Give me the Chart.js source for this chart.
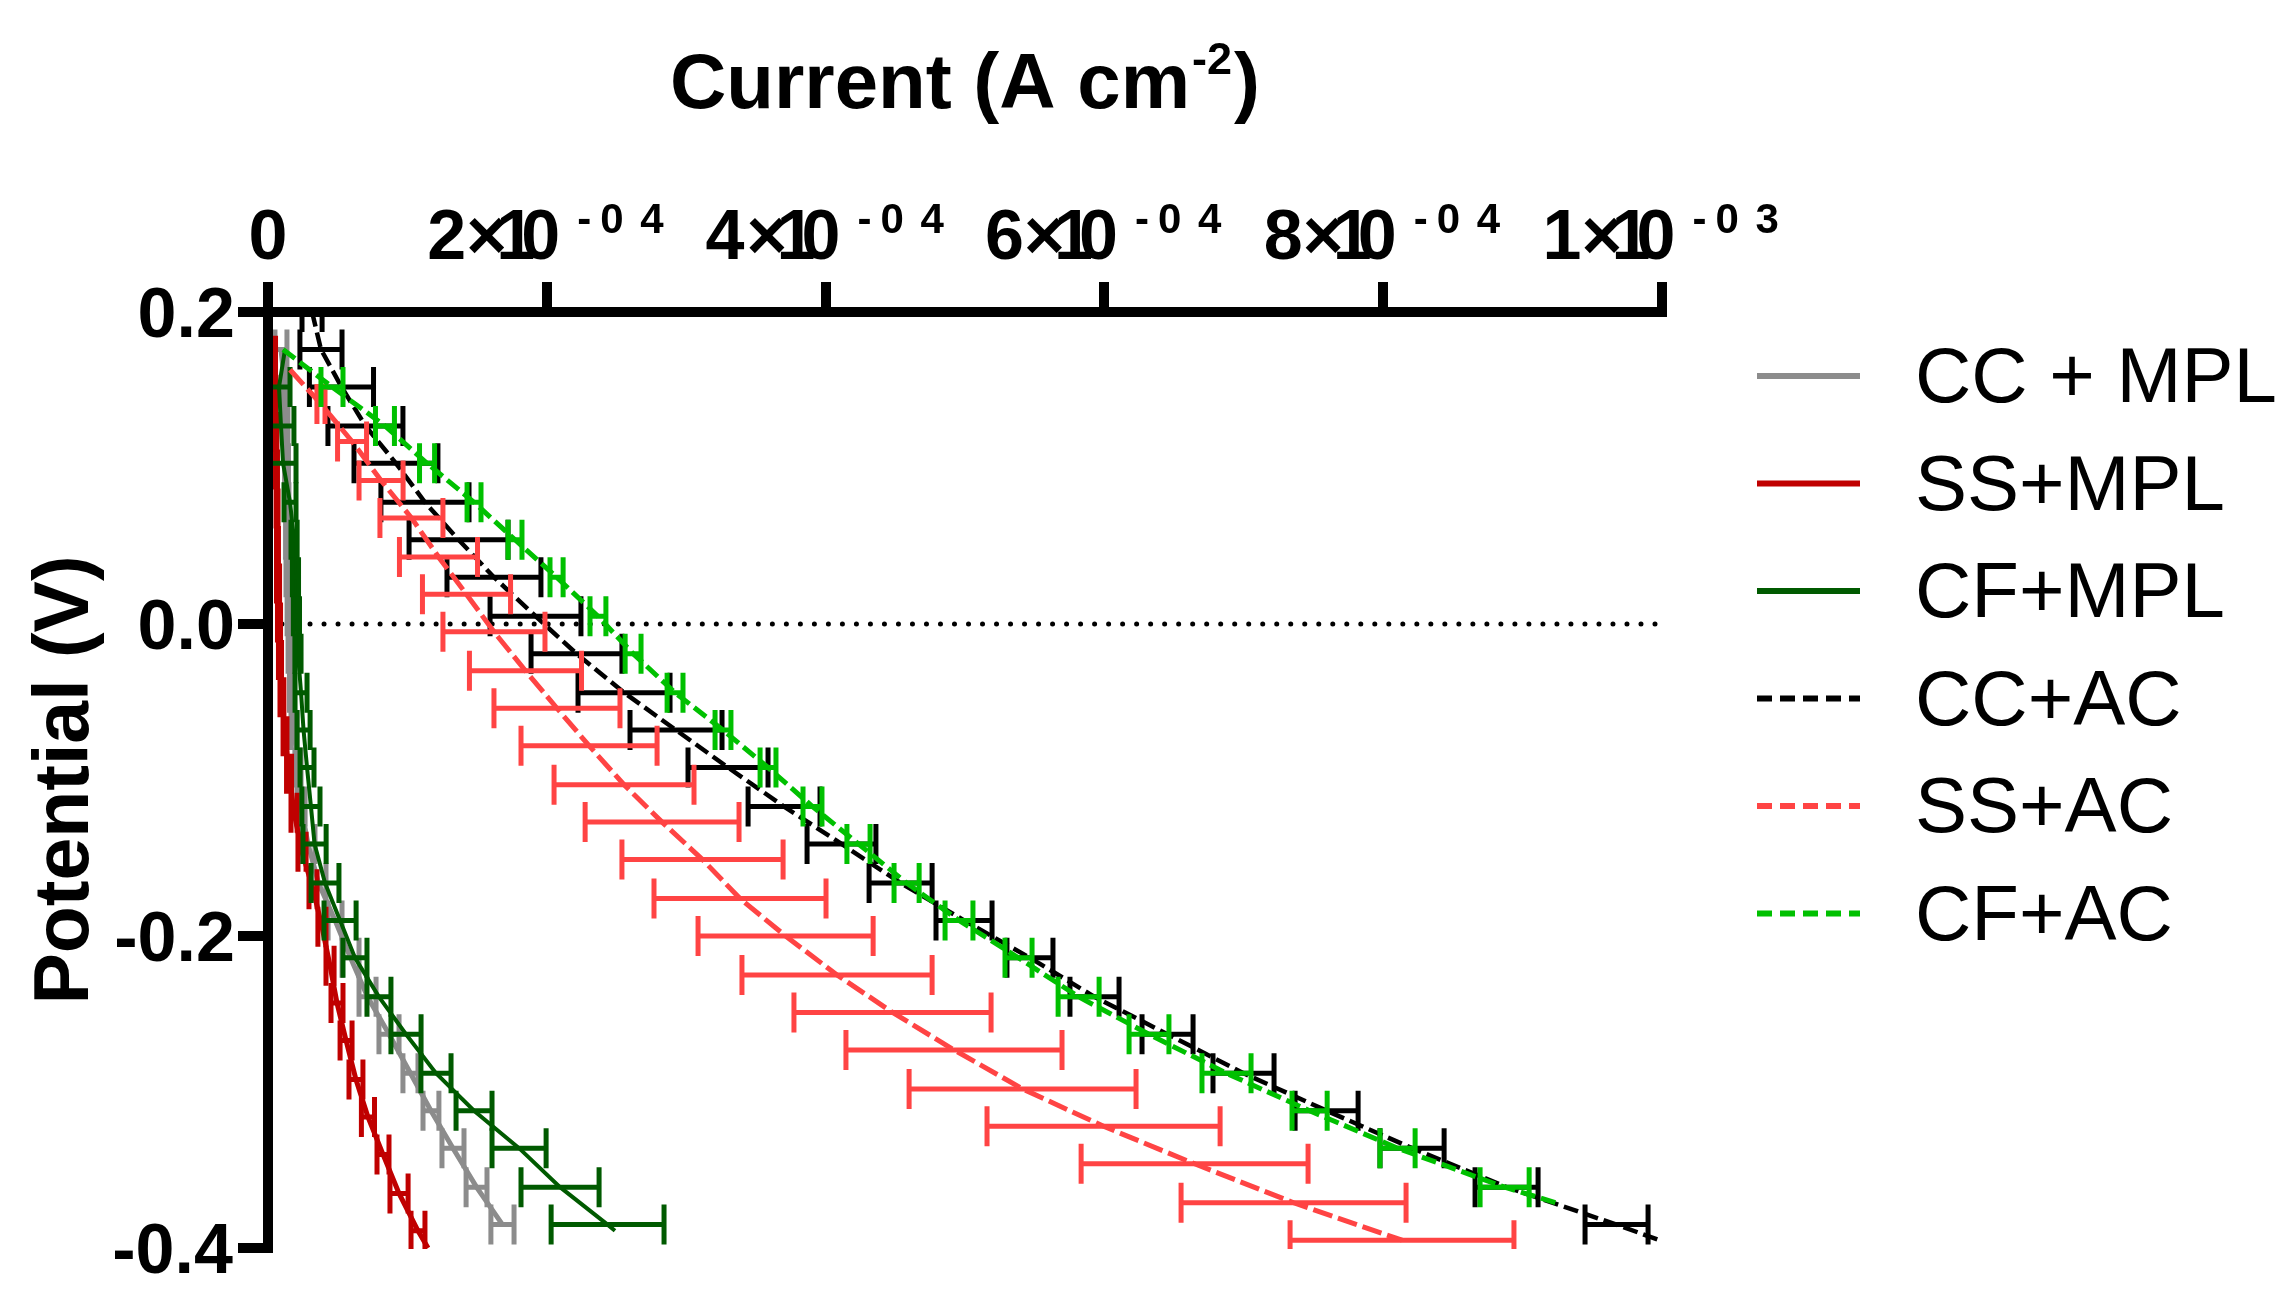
<!DOCTYPE html>
<html>
<head>
<meta charset="utf-8">
<script src="https://cdn.jsdelivr.net/npm/chart.js@4.4.1/dist/chart.umd.min.js"></script>
<style>
html,body{margin:0;padding:0;background:#fff;overflow:hidden}
canvas{display:block}
</style>
</head>
<body>
<canvas id="c" width="2293" height="1297"></canvas>
<script>
// ---------------- data (potential in V, current in A cm-2) ----------------
const seriesNames = ['CC + MPL', 'SS+MPL', 'CF+MPL', 'CC+AC', 'SS+AC', 'CF+AC'];

const ccMplE = [0.176, 0.152, 0.127, 0.103, 0.078, 0.054, 0.030, 0.005, -0.019, -0.044, -0.068, -0.092, -0.117, -0.141, -0.166, -0.190, -0.214, -0.239, -0.263, -0.288, -0.312, -0.336, -0.361, -0.385];
const ccMplI = [9.3e-6, 1.22e-5, 1.29e-5, 1.33e-5, 1.36e-5, 1.40e-5, 1.43e-5, 1.51e-5, 1.58e-5, 1.72e-5, 1.87e-5, 2.15e-5, 2.37e-5, 2.87e-5, 3.62e-5, 4.81e-5, 5.92e-5, 7.14e-5, 8.68e-5, 1.022e-4, 1.169e-4, 1.327e-4, 1.496e-4, 1.682e-4];
const ccMplErr = [4.3e-6, 1.4e-6, 1.4e-6, 1.4e-6, 1.4e-6, 1.4e-6, 1.4e-6, 1.4e-6, 1.4e-6, 1.8e-6, 2.2e-6, 2.2e-6, 2.9e-6, 5.0e-6, 5.4e-6, 5.0e-6, 6.1e-6, 6.1e-6, 7.2e-6, 5.4e-6, 5.7e-6, 7.9e-6, 7.5e-6, 8.3e-6];

const ssMplE = [0.184, 0.172, 0.147, 0.123, 0.099, 0.074, 0.050, 0.026, 0.001, -0.023, -0.047, -0.072, -0.096, -0.121, -0.146, -0.170, -0.194, -0.219, -0.243, -0.267, -0.292, -0.316, -0.340, -0.365, -0.389, -0.400];
const ssMplI = [4.3e-6, 4.7e-6, 5.0e-6, 5.7e-6, 6.1e-6, 6.5e-6, 6.8e-6, 7.2e-6, 7.9e-6, 8.6e-6, 1.00e-5, 1.22e-5, 1.51e-5, 1.87e-5, 2.44e-5, 3.23e-5, 3.87e-5, 4.45e-5, 4.95e-5, 5.60e-5, 6.31e-5, 7.17e-5, 8.25e-5, 9.40e-5, 1.076e-4, 1.148e-4];
const ssMplErr = [0, 7e-7, 7e-7, 7e-7, 7e-7, 7e-7, 7e-7, 1.1e-6, 1.1e-6, 1.1e-6, 1.4e-6, 1.4e-6, 1.8e-6, 2.2e-6, 2.9e-6, 2.9e-6, 2.9e-6, 2.9e-6, 4.3e-6, 4.3e-6, 5.0e-6, 4.7e-6, 4.3e-6, 6.5e-6, 5.0e-6, 0];

const cfMplE = [0.176, 0.152, 0.127, 0.103, 0.078, 0.054, 0.030, 0.005, -0.019, -0.044, -0.068, -0.092, -0.117, -0.141, -0.166, -0.190, -0.214, -0.239, -0.263, -0.288, -0.312, -0.336, -0.361, -0.385, -0.389];
const cfMplI = [1.22e-5, 7.9e-6, 9.3e-6, 1.08e-5, 1.58e-5, 1.87e-5, 1.97e-5, 2.04e-5, 2.15e-5, 2.37e-5, 2.55e-5, 2.80e-5, 3.08e-5, 3.34e-5, 4.09e-5, 5.17e-5, 6.24e-5, 7.96e-5, 9.90e-5, 1.205e-4, 1.478e-4, 1.801e-4, 2.095e-4, 2.436e-4, 2.489e-4];
const cfMplErr = [0, 7.9e-6, 9.3e-6, 9.3e-6, 4.3e-6, 2.2e-6, 2.2e-6, 2.2e-6, 2.2e-6, 4.3e-6, 4.7e-6, 5.0e-6, 6.5e-6, 8.3e-6, 1.00e-5, 1.15e-5, 8.6e-6, 8.6e-6, 1.08e-5, 1.08e-5, 1.29e-5, 1.94e-5, 2.80e-5, 4.05e-5, 0];

const ccAcE = [0.200, 0.176, 0.152, 0.127, 0.103, 0.078, 0.054, 0.030, 0.005, -0.019, -0.044, -0.068, -0.092, -0.117, -0.141, -0.166, -0.190, -0.214, -0.239, -0.263, -0.288, -0.312, -0.336, -0.361, -0.385, -0.409];
const ccAcI = [3.16e-5, 3.80e-5, 5.27e-5, 6.99e-5, 9.18e-5, 1.126e-4, 1.367e-4, 1.621e-4, 1.919e-4, 2.213e-4, 2.554e-4, 2.927e-4, 3.300e-4, 3.702e-4, 4.114e-4, 4.538e-4, 4.993e-4, 5.466e-4, 5.929e-4, 6.453e-4, 6.998e-4, 7.594e-4, 8.207e-4, 8.885e-4, 9.674e-4, 1.041e-3];
const ccAcErr = [7.2e-6, 1.51e-5, 2.30e-5, 2.69e-5, 3.01e-5, 3.16e-5, 3.55e-5, 3.37e-5, 3.26e-5, 3.26e-5, 3.30e-5, 3.30e-5, 2.87e-5, 2.58e-5, 2.47e-5, 2.26e-5, 2.01e-5, 1.65e-5, 1.76e-5, 1.83e-5, 2.19e-5, 2.26e-5, 2.30e-5, 2.26e-5, 2.26e-5, 2.26e-5];

const ssAcE = [0.163, 0.141, 0.117, 0.092, 0.068, 0.043, 0.019, -0.005, -0.030, -0.054, -0.078, -0.103, -0.127, -0.151, -0.176, -0.200, -0.225, -0.249, -0.273, -0.298, -0.322, -0.346, -0.371, -0.395];
const ssAcI = [1.58e-5, 3.80e-5, 6.03e-5, 8.11e-5, 1.029e-4, 1.223e-4, 1.424e-4, 1.621e-4, 1.847e-4, 2.073e-4, 2.303e-4, 2.554e-4, 2.827e-4, 3.117e-4, 3.386e-4, 3.713e-4, 4.082e-4, 4.480e-4, 4.921e-4, 5.413e-4, 5.994e-4, 6.647e-4, 7.357e-4, 8.135e-4];
const ssAcErr = [0, 2.9e-6, 1.04e-5, 1.58e-5, 2.26e-5, 2.80e-5, 3.16e-5, 3.66e-5, 4.02e-5, 4.52e-5, 4.88e-5, 5.02e-5, 5.52e-5, 5.78e-5, 6.17e-5, 6.28e-5, 6.82e-5, 7.07e-5, 7.75e-5, 8.14e-5, 8.36e-5, 8.14e-5, 8.07e-5, 8.03e-5];

const cfAcE = [0.176, 0.152, 0.127, 0.103, 0.078, 0.054, 0.030, 0.005, -0.019, -0.044, -0.068, -0.092, -0.117, -0.141, -0.166, -0.190, -0.214, -0.239, -0.263, -0.288, -0.312, -0.336, -0.361, -0.372];
const cfAcI = [1.08e-5, 4.59e-5, 8.39e-5, 1.141e-4, 1.478e-4, 1.772e-4, 2.070e-4, 2.367e-4, 2.619e-4, 2.920e-4, 3.264e-4, 3.587e-4, 3.906e-4, 4.236e-4, 4.581e-4, 4.957e-4, 5.384e-4, 5.815e-4, 6.320e-4, 6.876e-4, 7.472e-4, 8.103e-4, 8.871e-4, 9.276e-4];
const cfAcErr = [0, 7.9e-6, 6.8e-6, 5.4e-6, 5.0e-6, 5.0e-6, 4.7e-6, 5.7e-6, 5.7e-6, 5.7e-6, 5.7e-6, 5.7e-6, 6.8e-6, 8.3e-6, 9.0e-6, 1.00e-5, 9.7e-6, 1.47e-5, 1.43e-5, 1.76e-5, 1.26e-5, 1.26e-5, 1.76e-5, 0];

const refLineE = [0, 0];
const refLineI = [0, 0.001];

// axis ticks and labels
const xTickValues = [0, 0.0002, 0.0004, 0.0006, 0.0008, 0.001];
const xTickMantissa = ['0', '2', '4', '6', '8', '1'];
const xTickExponent = ['', '-04', '-04', '-04', '-04', '-03'];
const yTickValues = [0.2, 0, -0.2, -0.4];
const yTickLabels = ['0.2', '0.0', '-0.2', '-0.4'];
const xTitleMain = 'Current (A cm';
const xTitleSup = '-2';
const xTitleEnd = ')';
const yTitle = 'Potential (V)';

// ---------------- styles ----------------
const FONT = '"Liberation Sans", Arial, Helvetica, sans-serif';
const seriesStyle = [
  {color: '#8C8C8C', width: 5, dash: [], legendDash: []},
  {color: '#C00000', width: 5, dash: [], legendDash: []},
  {color: '#005A00', width: 4, dash: [], legendDash: []},
  {color: '#000000', width: 4.5, dash: [15, 6], legendDash: [15, 8]},
  {color: '#FF4444', width: 5, dash: [20, 6], legendDash: [15, 8]},
  {color: '#00C000', width: 5, dash: [15, 6], legendDash: [15, 8]}
];
const CAP_HALF = 20;

function pts(E, I) { return E.map((e, k) => ({x: I[k], y: e})); }

const seriesData = [
  [ccMplE, ccMplI, ccMplErr],
  [ssMplE, ssMplI, ssMplErr],
  [cfMplE, cfMplI, cfMplErr],
  [ccAcE, ccAcI, ccAcErr],
  [ssAcE, ssAcI, ssAcErr],
  [cfAcE, cfAcI, cfAcErr]
];

const datasets = seriesData.map((s, k) => ({
  label: seriesNames[k],
  data: pts(s[0], s[1]),
  errX: s[2],
  borderColor: seriesStyle[k].color,
  backgroundColor: seriesStyle[k].color,
  borderWidth: seriesStyle[k].width,
  borderDash: seriesStyle[k].dash,
  legendDash: seriesStyle[k].legendDash,
  pointRadius: 0,
  pointHoverRadius: 0,
  tension: 0,
  fill: false,
  order: 6 - k
}));
datasets.push({
  label: 'zero',
  data: pts(refLineE, refLineI),
  borderColor: '#000',
  borderWidth: 5,
  borderDash: [0.01, 14],
  borderCapStyle: 'round',
  pointRadius: 0,
  fill: false,
  order: 10
});

// ---------------- plugins ----------------
const errorBarPlugin = {
  id: 'errorBars',
  afterDatasetDraw(chart, args) {
    const ds = chart.data.datasets[args.index];
    if (!ds.errX) return;
    const ctx = chart.ctx, a = chart.chartArea;
    const xs = chart.scales.x, ys = chart.scales.y;
    ctx.save();
    ctx.beginPath();
    ctx.rect(a.left, a.top, a.right - a.left + 6, a.bottom - a.top + 1);
    ctx.clip();
    ctx.strokeStyle = ds.borderColor;
    ctx.lineWidth = 5;
    ctx.setLineDash([]);
    ctx.lineCap = 'butt';
    ds.data.forEach((p, k) => {
      const e = ds.errX[k];
      if (!e) return;
      const x1 = xs.getPixelForValue(p.x - e);
      const x2 = xs.getPixelForValue(p.x + e);
      const y = ys.getPixelForValue(p.y);
      ctx.beginPath();
      ctx.moveTo(x1, y); ctx.lineTo(x2, y);
      ctx.moveTo(x1, y - CAP_HALF); ctx.lineTo(x1, y + CAP_HALF);
      ctx.moveTo(x2, y - CAP_HALF); ctx.lineTo(x2, y + CAP_HALF);
      ctx.stroke();
    });
    ctx.restore();
  }
};

function inkW(ctx, t) {
  const m = ctx.measureText(t);
  return m.actualBoundingBoxLeft + m.actualBoundingBoxRight;
}
function drawInk(ctx, t, inkLeft, y) {
  const m = ctx.measureText(t);
  ctx.fillText(t, inkLeft + m.actualBoundingBoxLeft, y);
}

const decorPlugin = {
  id: 'decor',
  afterDraw(chart) {
    const ctx = chart.ctx;
    const xs = chart.scales.x, ys = chart.scales.y;
    ctx.save();
    ctx.fillStyle = '#000';
    ctx.textAlign = 'left';
    ctx.textBaseline = 'alphabetic';
    const mainFont = 'bold 70px ' + FONT;
    const supFont = 'bold 42px ' + FONT;
    const xBase = xs.bottom - 53;   // baseline of x tick labels
    // x tick labels
    xTickValues.forEach((v, k) => {
      const cx = xs.getPixelForValue(v);
      const mant = xTickMantissa[k], ex = xTickExponent[k];
      ctx.font = mainFont;
      if (!ex) {
        const w = inkW(ctx, mant);
        drawInk(ctx, mant, cx - w / 2, xBase);
        return;
      }
      const supChars = ex.split('');
      const p = [];
      p[0] = 0;
      p[1] = inkW(ctx, mant) + 4;
      p[2] = p[1] + 32;
      p[3] = p[2] + 23;
      const s0 = p[3] + 55, s1 = s0 + 23, s2 = s1 + 39;
      ctx.font = supFont;
      const total = s2 + inkW(ctx, supChars[2]);
      const L = cx - total / 2;
      ctx.font = mainFont;
      [mant, '\u00D7', '1', '0'].forEach((g, i) => drawInk(ctx, g, L + p[i], xBase));
      ctx.font = supFont;
      drawInk(ctx, supChars[0], L + s0, xBase - 26);
      drawInk(ctx, supChars[1], L + s1, xBase - 26);
      drawInk(ctx, supChars[2], L + s2, xBase - 26);
    });
    // y tick labels
    ctx.font = mainFont;
    yTickValues.forEach((v, k) => {
      const y = ys.getPixelForValue(v);
      const t = yTickLabels[k];
      const m = ctx.measureText(t);
      ctx.fillText(t, ys.right - 35 - m.actualBoundingBoxRight, y + 25);
    });
    // x title
    const tFont = 'bold 78px ' + FONT;
    const tSup = 'bold 45px ' + FONT;
    ctx.font = tFont;
    const w1 = ctx.measureText(xTitleMain).width;
    const w3 = ctx.measureText(xTitleEnd).width;
    ctx.font = tSup;
    const w2 = ctx.measureText(xTitleSup).width;
    const tw = w1 + w2 + w3 + 4;
    const tcx = (chart.chartArea.left + chart.chartArea.right) / 2;
    const tx = tcx - tw / 2;
    const tBase = 108;
    ctx.font = tFont;
    ctx.fillText(xTitleMain, tx, tBase);
    ctx.font = tSup;
    ctx.fillText(xTitleSup, tx + w1 + 2, tBase - 34);
    ctx.font = tFont;
    ctx.fillText(xTitleEnd, tx + w1 + w2 + 4, tBase);
    // y title
    ctx.save();
    ctx.translate(88, (chart.chartArea.top + chart.chartArea.bottom) / 2);
    ctx.rotate(-Math.PI / 2);
    ctx.textAlign = 'center';
    ctx.font = 'bold 77px ' + FONT;
    ctx.fillText(yTitle, 0, 0);
    ctx.restore();
    // legend
    ctx.font = '78px ' + FONT;
    seriesNames.forEach((name, k) => {
      const ds = chart.data.datasets[k];
      const y = 376 + 107.5 * k;
      ctx.save();
      ctx.strokeStyle = ds.borderColor;
      ctx.lineWidth = 6;
      ctx.lineCap = 'butt';
      ctx.setLineDash(ds.legendDash);
      ctx.beginPath();
      ctx.moveTo(1757, y);
      ctx.lineTo(1860, y);
      ctx.stroke();
      ctx.restore();
      drawInk(ctx, name, 1918, y + 26);
    });
    ctx.restore();
  }
};

// ---------------- chart ----------------
new Chart(document.getElementById('c'), {
  type: 'line',
  data: {datasets},
  options: {
    responsive: false,
    maintainAspectRatio: false,
    devicePixelRatio: 1,
    animation: false,
    events: [],
    layout: {padding: {left: 0, top: 0, right: 631, bottom: 49}},
    plugins: {legend: {display: false}, tooltip: {enabled: false}, title: {display: false}},
    scales: {
      x: {
        type: 'linear',
        position: 'top',
        min: 0,
        max: 0.001,
        afterFit: s => { s.height = 312; },
        afterBuildTicks: s => { s.ticks = xTickValues.map(v => ({value: v})); },
        ticks: {display: false},
        grid: {drawOnChartArea: false, drawTicks: true, tickLength: 30, lineWidth: 10, color: '#000'},
        border: {display: true, width: 10, color: '#000', z: 1}
      },
      y: {
        type: 'linear',
        position: 'left',
        min: -0.4,
        max: 0.2,
        afterFit: s => { s.width = 268; },
        afterBuildTicks: s => { s.ticks = yTickValues.map(v => ({value: v})); },
        ticks: {display: false},
        grid: {drawOnChartArea: false, drawTicks: true, tickLength: 30, lineWidth: 10, color: '#000'},
        border: {display: true, width: 10, color: '#000', z: 1}
      }
    }
  },
  plugins: [errorBarPlugin, decorPlugin]
});
</script>
</body>
</html>
